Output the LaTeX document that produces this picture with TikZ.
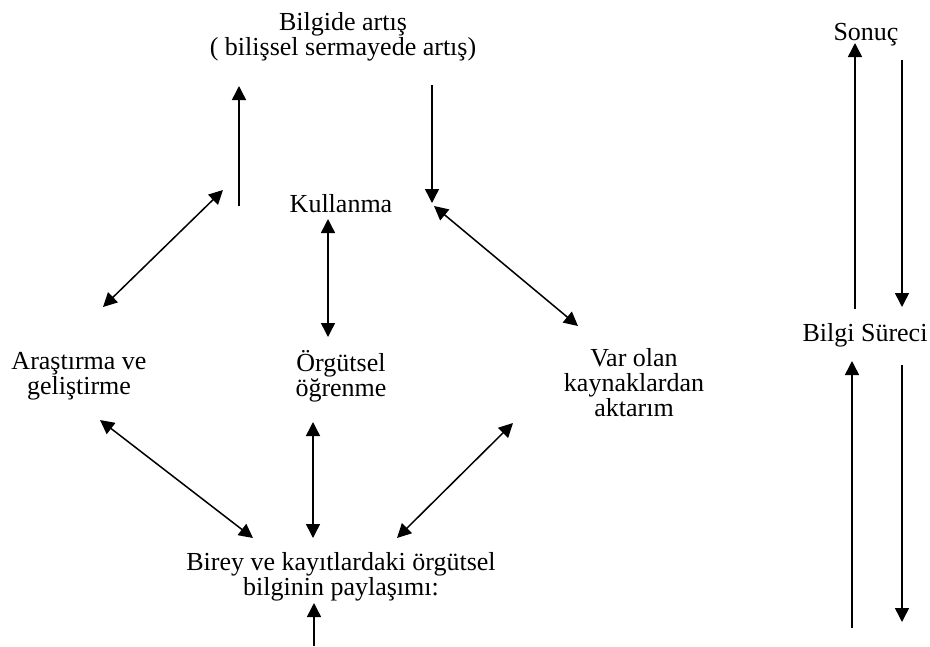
\documentclass[tikz,border=0pt]{standalone}
\usepackage{fontspec}
\setmainfont{Liberation Serif}
\usetikzlibrary{arrows.meta}

\begin{document}
\begin{tikzpicture}[x=1pt,y=-1pt,
    txt/.style={align=center,inner sep=0pt,font=\fontsize{26}{25}\selectfont},
    arr/.style={line width=1.5pt,-{Triangle[length=14pt,width=14pt]}},
    darr/.style={line width=1.5pt,{Triangle[length=14pt,width=14pt]}-{Triangle[length=14pt,width=14pt]}}]
  \useasboundingbox (0,0) rectangle (930,646);

  % text blocks
  \node[txt] (artis) at (343,37) {Bilgide artış\\( bilişsel sermayede artış)};
  \node[txt] (kull) at (341,204) {Kullanma};
  \node[txt] (arge) at (79,376) {Araştırma ve\\geliştirme};
  \node[txt] (orgut) at (341,376) {Örgütsel\\öğrenme};
  \node[txt] (aktar) at (634,383) {Var olan\\kaynaklardan\\aktarım};
  \node[txt] (birey) at (341,577) {Birey ve kayıtlardaki örgütsel\\bilginin paylaşımı:};
  \node[txt] (sonuc) at (866,35) {Sonuç};
  \node[txt] (surec) at (865,335) {Bilgi Süreci};

  % arrow ends
  \coordinate (up1) at (239,206);  \coordinate (up2) at (239,86);
  \coordinate (dn1) at (432,85);   \coordinate (dn2) at (432,203);
  \coordinate (l1) at (103,307);   \coordinate (l2) at (223,190);
  \coordinate (r1) at (434,206);   \coordinate (r2) at (578,326);
  \coordinate (m1) at (328,219);   \coordinate (m2) at (328,337);
  \coordinate (bl1) at (100,420);  \coordinate (bl2) at (253,538);
  \coordinate (bm1) at (313,422);  \coordinate (bm2) at (313,538);
  \coordinate (br1) at (513,423);  \coordinate (br2) at (397,538);
  \coordinate (in1) at (314,646);  \coordinate (in2) at (314,603);

  \draw[arr] (up1) -- (up2);
  \draw[arr] (dn1) -- (dn2);
  \draw[darr] (l1) -- (l2);
  \draw[darr] (r1) -- (r2);
  \draw[darr] (m1) -- (m2);
  \draw[darr] (bl1) -- (bl2);
  \draw[darr] (bm1) -- (bm2);
  \draw[darr] (br1) -- (br2);
  \draw[arr] (in1) -- (in2);

  % process column
  \foreach \nm/\x/\ya/\yb in {a/855/309/43, b/902/60/307, c/852/628/361, d/902/365/622} {
    \coordinate (s\nm1) at (\x,\ya);
    \coordinate (s\nm2) at (\x,\yb);
    \draw[arr] (s\nm1) -- (s\nm2);
  }
\end{tikzpicture}
\end{document}
